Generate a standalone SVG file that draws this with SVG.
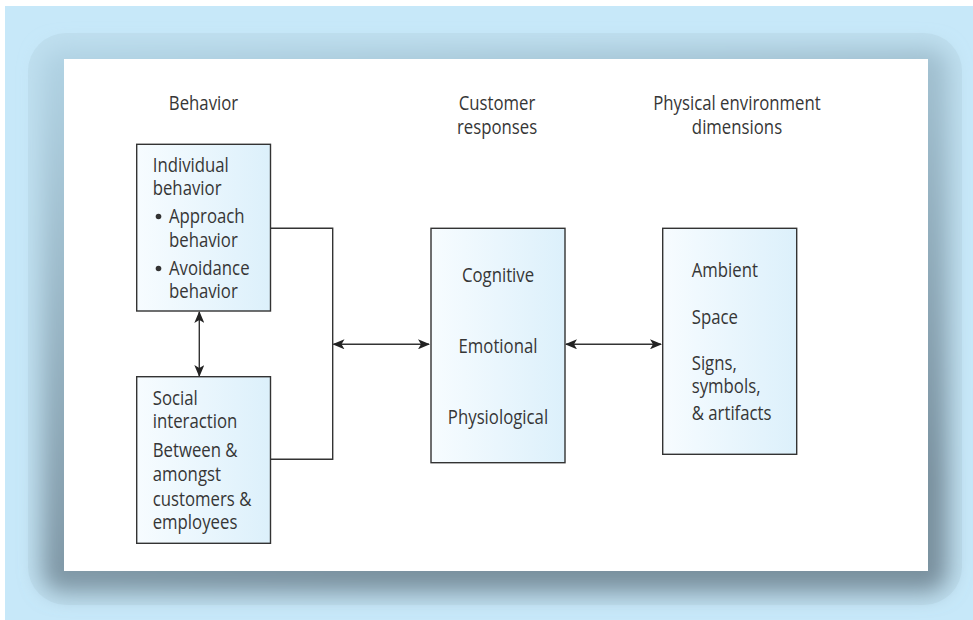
<svg xmlns="http://www.w3.org/2000/svg" width="973" height="620" viewBox="0 0 973 620">
  <style>
    .t { font-family: "Open Sans", "Noto Sans", "Liberation Sans", sans-serif; font-size: 19.5px; fill: #363636; }
    .c { text-anchor: middle; }
    .box { fill: url(#boxgrad); stroke: #333333; stroke-width: 1.4; }
    .ln { fill: none; stroke: #333333; stroke-width: 1.4; }
  </style>
  <defs>
    <linearGradient id="boxgrad" x1="0" y1="0" x2="1" y2="0">
      <stop offset="0" stop-color="#f7fcff"/>
      <stop offset="1" stop-color="#dcf0fb"/>
    </linearGradient>
    <linearGradient id="shgrad" x1="0" y1="0" x2="0.3" y2="1">
      <stop offset="0" stop-color="#b2d4e5"/>
      <stop offset="1" stop-color="#79909e"/>
    </linearGradient>
    <filter id="blur" x="-10%" y="-10%" width="120%" height="120%">
      <feGaussianBlur stdDeviation="11"/>
    </filter>
    <marker id="ah" viewBox="0 0 12 10" refX="11" refY="5" markerWidth="12" markerHeight="10" markerUnits="userSpaceOnUse" orient="auto-start-reverse">
      <path d="M0,0 L12,5 L0,10 L3,5 Z" fill="#222222"/>
    </marker>
  </defs>

  <g id="background">
    <rect x="5" y="6" width="968" height="614" fill="#c7e8f9"/>
    <rect x="28" y="33" width="934" height="572" rx="38" fill="#bfdfef"/>
    <rect x="42" y="48" width="906" height="544" rx="20" fill="url(#shgrad)" filter="url(#blur)"/>
    <rect x="64" y="59" width="864" height="512" fill="#ffffff"/>
  </g>

  <g id="headers">
    <text class="t c" transform="translate(203.5 110) scale(0.86 1)">Behavior</text>
    <text class="t c" transform="translate(497 110) scale(0.86 1)">Customer</text>
    <text class="t c" transform="translate(497 134) scale(0.86 1)">responses</text>
    <text class="t c" transform="translate(737 110) scale(0.86 1)">Physical environment</text>
    <text class="t c" transform="translate(737 134) scale(0.86 1)">dimensions</text>
  </g>

  <g id="connectors">
    <polyline class="ln" points="270.5,228.3 332.7,228.3 332.7,459.3 270.5,459.3"/>
    <line class="ln" x1="333.5" y1="344.3" x2="429" y2="344.3" marker-start="url(#ah)" marker-end="url(#ah)"/>
    <line class="ln" x1="566" y1="344.3" x2="661" y2="344.3" marker-start="url(#ah)" marker-end="url(#ah)"/>
    <line class="ln" x1="199.3" y1="312" x2="199.3" y2="376" marker-start="url(#ah)" marker-end="url(#ah)"/>
  </g>

  <g id="node-individual">
    <rect class="box" x="136.7" y="144.3" width="133.8" height="166.7"/>
    <text class="t" transform="translate(152.7 171.6) scale(0.86 1)">Individual</text>
    <text class="t" transform="translate(152.7 195.3) scale(0.86 1)">behavior</text>
    <circle cx="158.5" cy="216.5" r="2.8" fill="#333333"/>
    <text class="t" transform="translate(169 223.3) scale(0.86 1)">Approach</text>
    <text class="t" transform="translate(169 246.7) scale(0.86 1)">behavior</text>
    <circle cx="158.5" cy="268.5" r="2.8" fill="#333333"/>
    <text class="t" transform="translate(169 275) scale(0.86 1)">Avoidance</text>
    <text class="t" transform="translate(169 298.3) scale(0.86 1)">behavior</text>
  </g>

  <g id="node-social">
    <rect class="box" x="136.7" y="376.7" width="133.8" height="166.6"/>
    <text class="t" transform="translate(152.7 405) scale(0.86 1)">Social</text>
    <text class="t" transform="translate(152.7 428.3) scale(0.86 1)">interaction</text>
    <text class="t" transform="translate(152.7 457.3) scale(0.86 1)">Between &amp;</text>
    <text class="t" transform="translate(152.7 480.7) scale(0.86 1)">amongst</text>
    <text class="t" transform="translate(152.7 505.7) scale(0.86 1)">customers &amp;</text>
    <text class="t" transform="translate(152.7 529.3) scale(0.86 1)">employees</text>
  </g>

  <g id="node-responses">
    <rect class="box" x="431" y="228.3" width="134" height="234.4"/>
    <text class="t c" transform="translate(498 281.7) scale(0.86 1)">Cognitive</text>
    <text class="t c" transform="translate(498 352.7) scale(0.86 1)">Emotional</text>
    <text class="t c" transform="translate(498 424) scale(0.86 1)">Physiological</text>
  </g>

  <g id="node-environment">
    <rect class="box" x="662.7" y="228.3" width="134" height="226"/>
    <text class="t" transform="translate(691.7 277.3) scale(0.86 1)">Ambient</text>
    <text class="t" transform="translate(691.7 324) scale(0.86 1)">Space</text>
    <text class="t" transform="translate(691.7 370) scale(0.86 1)">Signs,</text>
    <text class="t" transform="translate(691.7 393.3) scale(0.86 1)">symbols,</text>
    <text class="t" transform="translate(691.7 420) scale(0.86 1)">&amp; artifacts</text>
  </g>
</svg>
